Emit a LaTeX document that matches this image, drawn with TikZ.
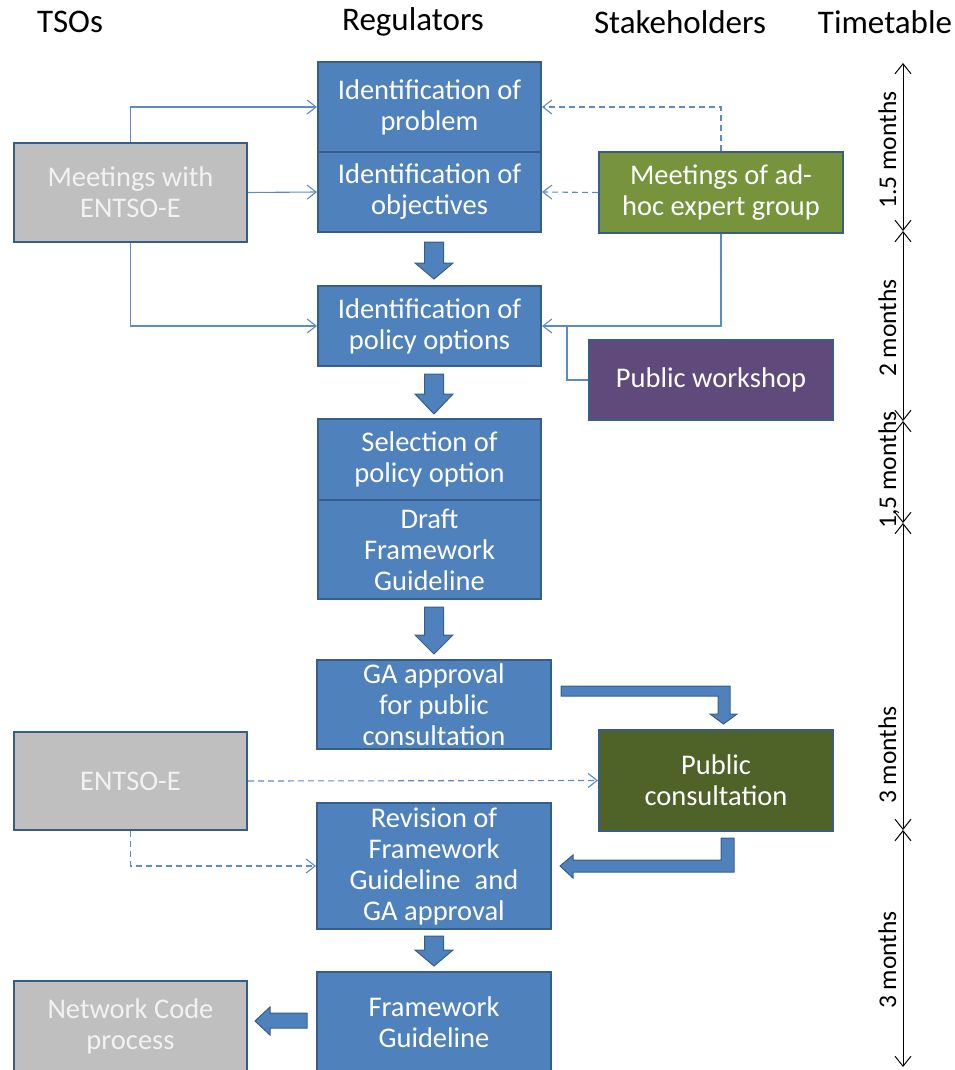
\documentclass[tikz,border=0pt]{standalone}
\usepackage{fontspec}
\setmainfont{Carlito}
\usetikzlibrary{calc}
\usetikzlibrary{arrows.meta}
\definecolor{regblue}{HTML}{4F81BD}
\definecolor{boxedge}{HTML}{385D8A}
\definecolor{tsogray}{HTML}{BFBFBF}
\definecolor{adhocgreen}{HTML}{77933C}
\definecolor{consolive}{HTML}{4F6228}
\definecolor{shopviolet}{HTML}{604A7B}
\definecolor{linkblue}{HTML}{5B8CC8}
\definecolor{paletext}{HTML}{F2F2F2}
\tikzset{
    box/.style={rectangle, draw=boxedge, line width=2pt, inner sep=0pt, align=center, text=white, font=\fontsize{28.5}{31}\selectfont},
    regbox/.style={box, fill=regblue},
    tsobox/.style={box, fill=tsogray, text=paletext, minimum width=233pt},
    head/.style={font=\fontsize{33}{38}\selectfont},
    period/.style={rotate=90, anchor=base, inner sep=0pt, font=\fontsize{25.5}{30}\selectfont},
    link/.style={draw=linkblue, line width=1.1pt, -{Straight Barb[length=9pt,width=14pt]}},
    faint/.style={dash pattern=on 6pt off 4pt},
    span/.style={line width=1pt, {Straight Barb[length=10pt,width=16pt]}-{Straight Barb[length=10pt,width=16pt]}},
    blockarrow/.style={fill=regblue, draw=boxedge, line width=1pt, line join=miter}
}
\begin{document}
\begin{tikzpicture}[x=1pt, y=-1pt]
            \useasboundingbox (0,0) rectangle (954,1070);
            \node[head] (tso head) at (70,22) {TSOs};
            \node[head] (reg head) at (413,22) {Regulators};
            \node[head] (stake head) at (680,22) {Stakeholders};
            \node[head] (time head) at (885,22) {Timetable};
            \node[regbox, minimum width=223pt, minimum height=90pt] (problem) at (429.5,107) {Identification of\\problem};
            \node[regbox, minimum width=223pt, minimum height=80pt] (objectives) at (429.5,192) {Identification of\\objectives};
            \node[regbox, minimum width=223pt, minimum height=80pt] (options) at (429.5,326) {Identification of\\policy options};
            \node[regbox, minimum width=223pt, minimum height=81pt] (selection) at (429.5,459.5) {Selection of\\policy option};
            \node[regbox, minimum width=223pt, minimum height=99pt] (draft) at (429.5,549.5) {Draft\\Framework\\Guideline};
            \node[regbox, minimum width=234pt, minimum height=89pt] (ga approval) at (434,704.5) {GA approval\\for public\\consultation};
            \node[regbox, minimum width=234pt, minimum height=126pt] (revision) at (434,866) {Revision of\\Framework\\Guideline\enspace and\\GA approval};
            \node[regbox, minimum width=234pt, minimum height=100pt] (guideline) at (434,1022) {Framework\\Guideline};
            \node[tsobox, minimum height=99pt] (tso meetings) at (130.5,192.5) {Meetings with\\ENTSO-E};
            \node[tsobox, minimum height=98pt] (entsoe) at (130.5,781) {ENTSO-E};
            \node[tsobox, minimum height=91pt] (network code) at (130.5,1026.5) {Network Code\\process};
            \node[box, fill=adhocgreen, minimum width=244pt, minimum height=81pt] (expert group) at (721,192.5) {Meetings of ad-\\hoc expert group};
            \node[box, fill=shopviolet, minimum width=244pt, minimum height=80pt] (workshop) at (711,380) {Public workshop};
            \node[box, fill=consolive, minimum width=234pt, minimum height=101pt] (consultation) at (716,780.5) {Public\\consultation};
            \coordinate (workshop join) at ($(options.east) + (25, 0)$);
            \draw[link] (tso meetings.north) |- (problem.west);
            \draw[link] (tso meetings.east) -- (objectives.west);
            \draw[link] (tso meetings.south) |- (options.west);
            \draw[link, faint] (expert group.north) |- (problem.east);
            \draw[link, faint] (expert group.west) -- (objectives.east);
            \draw[link] (expert group.south) |- (options.east);
            \draw[link, -] (workshop.west) -| (workshop join);
            \draw[link, faint] (entsoe.east) -- (consultation.west);
            \draw[link, faint] (entsoe.south) |- (revision.west);
            \draw[blockarrow] ($(objectives.south) + (-5, 9)$) -- ++(19,0) -- ++(0,21) -- ++(9.5,0) -- ++(-19,16) -- ++(-19,-16) -- ++(9.5,0) -- cycle;
            \draw[blockarrow] ($(options.south) + (-5, 7)$) -- ++(19,0) -- ++(0,20) -- ++(9.5,0) -- ++(-19,20) -- ++(-19,-20) -- ++(9.5,0) -- cycle;
            \draw[blockarrow] ($(draft.south) + (-5, 7)$) -- ++(19,0) -- ++(0,28) -- ++(9.5,0) -- ++(-19,19) -- ++(-19,-19) -- ++(9.5,0) -- cycle;
            \draw[blockarrow] ($(revision.south) + (-9.5, 6)$) -- ++(19,0) -- ++(0,14) -- ++(9.5,0) -- ++(-19,16) -- ++(-19,-16) -- ++(9.5,0) -- cycle;
            \draw[blockarrow] ($(guideline.west) + (-9, -9)$) -- ++(-37,0) -- ++(0,-6) -- ++(-15,14) -- ++(15,14) -- ++(0,-7) -- ++(37,0) -- cycle;
            \draw[blockarrow] ($(ga approval.east) + (9, -18.5)$) -- ++(169,0) -- ++(0,28) -- ++(7,0) -- ++(-13.5,10) -- ++(-13.5,-10) -- ++(8,0) -- ++(0,-18) -- ++(-157,0) -- cycle;
            \draw[blockarrow] ($(consultation.south) + (5, 6)$) -- ++(13,0) -- ++(0,34) -- ++(-161,0) -- ++(0,6) -- ++(-13,-12) -- ++(13,-11) -- ++(0,5) -- ++(148,0) -- cycle;
            \coordinate (t0) at (903,63);
            \coordinate (t1) at (903,231);
            \coordinate (t2) at (903,421);
            \coordinate (t3) at (903,523);
            \coordinate (t4) at (903,830);
            \coordinate (t5) at (903,1067);
            \draw[span] (t0) -- (t1);
            \draw[span] (t1) -- (t2);
            \draw[span] (t2) -- (t3);
            \draw[span] (t3) -- (t4);
            \draw[span] (t4) -- (t5);
            \node[period] (first period) at (896,150) {1.5 months};
            \node[period] (second period) at (896,328) {2 months};
            \node[period] (third period) at (896,470) {1,5 months};
            \node[period] (fourth period) at (896,755) {3 months};
            \node[period] (fifth period) at (896,960) {3 months};
        \end{tikzpicture}
\end{document}
